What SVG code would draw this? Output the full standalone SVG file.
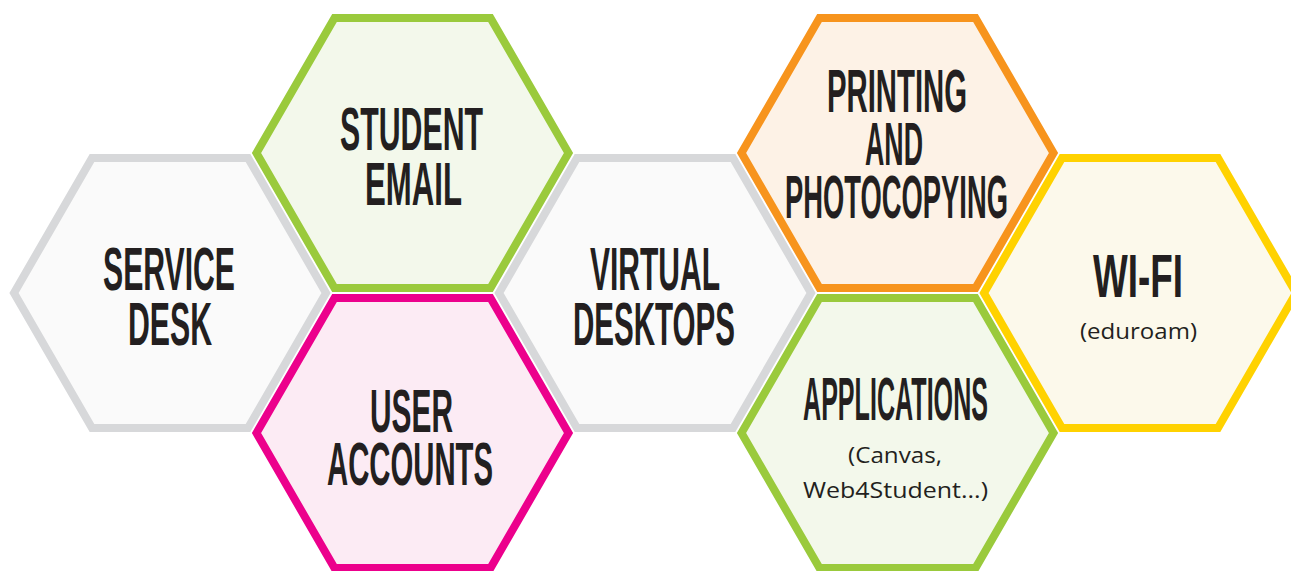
<svg xmlns="http://www.w3.org/2000/svg" width="1291" height="571" viewBox="0 0 1291 571">
<style>
.hex{stroke-width:8;stroke-linejoin:miter}
.gray{fill:#fafafa;stroke:#d7d8da}
.green{fill:#f3f8eb;stroke:#9aca3c}
.pink{fill:#fcebf4;stroke:#ec008c}
.orange{fill:#fdf2e6;stroke:#f7941d}
.yellow{fill:#fcf9eb;stroke:#ffd200}
.t{font-family:"Liberation Sans","DejaVu Sans",sans-serif;font-weight:bold;font-size:61px;fill:#231f20;text-anchor:middle}
.s{font-family:"Open Sans","Noto Sans",sans-serif;font-size:21px;fill:#231f20;text-anchor:middle}
</style>
<rect width="1291" height="571" fill="#ffffff"/>
<g id="connectors"/>
<g id="service-desk">
<polygon class="hex gray" points="14,293 92,157.9 248,157.9 326,293 248,428.1 92,428.1"/>
<text class="t"><tspan x="169" y="290" textLength="132" lengthAdjust="spacingAndGlyphs">SERVICE</tspan><tspan x="170" y="345" textLength="84" lengthAdjust="spacingAndGlyphs">DESK</tspan></text>
</g>
<g id="student-email">
<polygon class="hex green" points="256.5,153 334.5,17.9 490.5,17.9 568.5,153 490.5,288.1 334.5,288.1"/>
<text class="t"><tspan x="411.5" y="150" textLength="143" lengthAdjust="spacingAndGlyphs">STUDENT</tspan><tspan x="413.5" y="205" textLength="97" lengthAdjust="spacingAndGlyphs">EMAIL</tspan></text>
</g>
<g id="user-accounts">
<polygon class="hex pink" points="256.5,433 334.5,297.9 490.5,297.9 568.5,433 490.5,568.1 334.5,568.1"/>
<text class="t"><tspan x="411.5" y="432" textLength="83" lengthAdjust="spacingAndGlyphs">USER</tspan><tspan x="410" y="485" textLength="166" lengthAdjust="spacingAndGlyphs">ACCOUNTS</tspan></text>
</g>
<g id="virtual-desktops">
<polygon class="hex gray" points="499,293 577,157.9 733,157.9 811,293 733,428.1 577,428.1"/>
<text class="t"><tspan x="655" y="290" textLength="130" lengthAdjust="spacingAndGlyphs">VIRTUAL</tspan><tspan x="654" y="345" textLength="162" lengthAdjust="spacingAndGlyphs">DESKTOPS</tspan></text>
</g>
<g id="printing">
<polygon class="hex orange" points="741.5,153 819.5,17.9 975.5,17.9 1053.5,153 975.5,288.1 819.5,288.1"/>
<text class="t"><tspan x="897" y="112" textLength="140" lengthAdjust="spacingAndGlyphs">PRINTING</tspan><tspan x="894" y="165" textLength="58" lengthAdjust="spacingAndGlyphs">AND</tspan><tspan x="896.5" y="218" textLength="223" lengthAdjust="spacingAndGlyphs">PHOTOCOPYING</tspan></text>
</g>
<g id="applications">
<polygon class="hex green" points="741.5,433 819.5,297.9 975.5,297.9 1053.5,433 975.5,568.1 819.5,568.1"/>
<text class="t" x="895.5" y="420" textLength="185" lengthAdjust="spacingAndGlyphs">APPLICATIONS</text>
<text class="s"><tspan x="895" y="463" textLength="94" lengthAdjust="spacingAndGlyphs">(Canvas,</tspan><tspan x="895.5" y="498" textLength="185" lengthAdjust="spacingAndGlyphs">Web4Student...)</tspan></text>
</g>
<g id="wifi">
<polygon class="hex yellow" points="984,293 1062,157.9 1218,157.9 1296,293 1218,428.1 1062,428.1"/>
<text class="t" x="1138" y="297" textLength="90" lengthAdjust="spacingAndGlyphs">WI-FI</text>
<text class="s" x="1138.5" y="339" textLength="117" lengthAdjust="spacingAndGlyphs">(eduroam)</text>
</g>
</svg>
